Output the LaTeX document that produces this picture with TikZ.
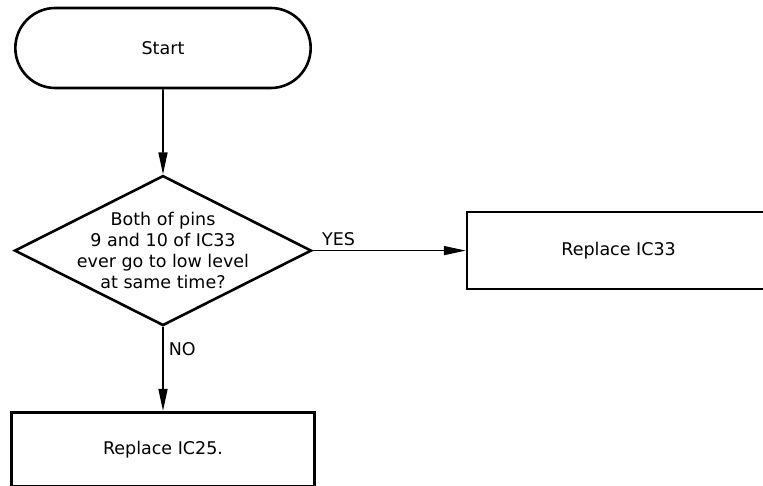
\documentclass[tikz,border=0pt]{standalone}
\usepackage{fontspec}
\setmainfont{DejaVu Sans}
\usetikzlibrary{positioning,shapes.geometric,shapes.misc,arrows.meta}

\begin{document}
\begin{tikzpicture}[x=1pt, y=-1pt,
  txt/.style={font=\fontsize{17.5}{21}\selectfont},
  terminal/.style={draw, txt, line width=2.6pt, rounded rectangle, minimum width=302pt, minimum height=80pt},
  decision/.style={draw, line width=2.6pt, diamond, minimum width=297pt, minimum height=150pt, inner sep=0pt},
  action/.style={draw, txt, line width=2.6pt, rectangle, minimum width=303pt, minimum height=77pt},
  flow/.style={line width=1.6pt, -{Triangle[length=22pt, width=9pt]}},
  node distance=85pt]

  \useasboundingbox (0,0) rectangle (763,486);
  \clip (0,0) rectangle (763,486);

  % Start
  \node[terminal]                        (start) at (163,48) {Start};

  % test on pins 9 and 10
  \node[decision, below=of start,
        label={[txt, align=center]center:Both of pins\\9 and 10 of IC33\\ever go to low level\\at same time?}] (pins) {};

  % outcomes
  \node[action, right=153pt of pins]     (ic33)  {Replace IC33};
  \node[action, below=84pt of pins, minimum height=74pt] (ic25) {Replace IC25.};

  % Connect
  \draw[flow] (start) -- (pins);
  \draw[flow] (pins.east) -- node[txt, pos=0.03, above right, inner sep=4pt] {YES} (ic33);
  \draw[flow] (pins.south) -- node[txt, pos=0.27, right, inner sep=5pt] {NO} (ic25);

\end{tikzpicture}
\end{document}
